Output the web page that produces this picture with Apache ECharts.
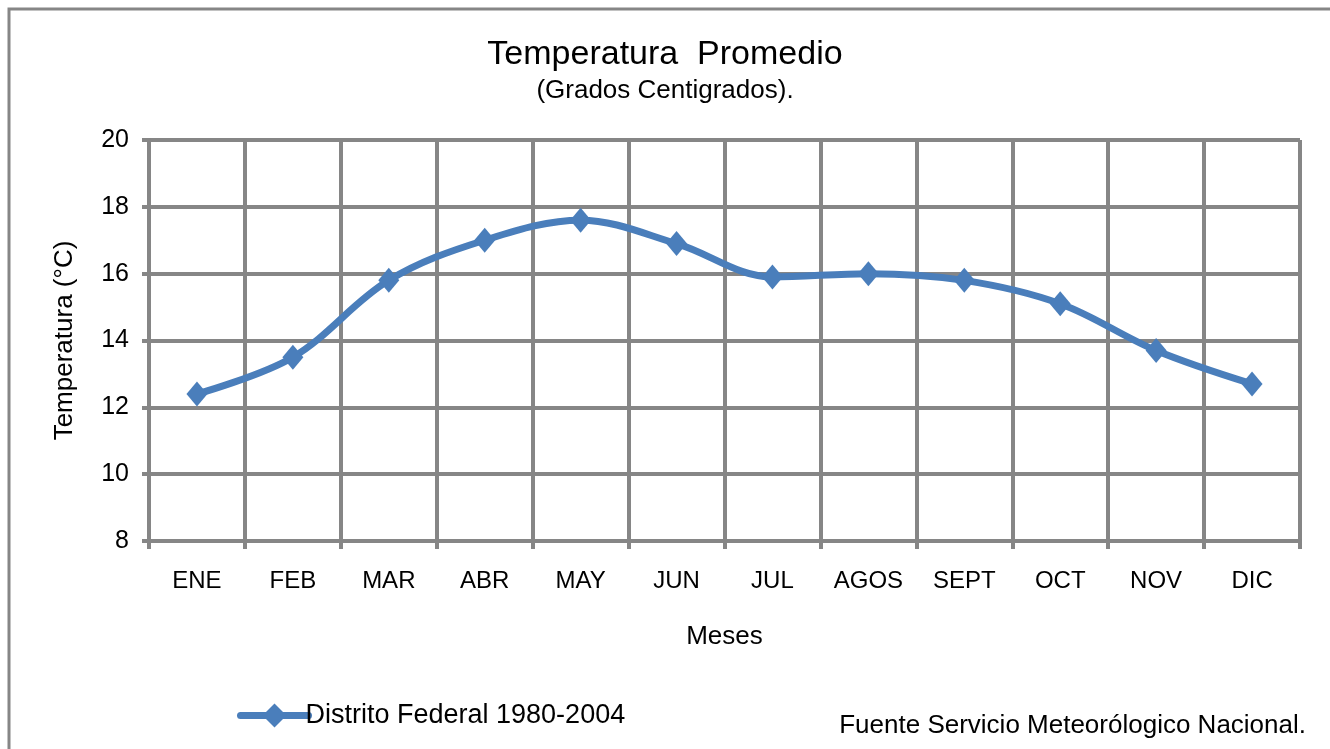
<!DOCTYPE html>
<html>
<head>
<meta charset="utf-8">
<script src="https://cdn.jsdelivr.net/npm/echarts@6/dist/echarts.min.js"></script>
<style>
  html, body { margin: 0; padding: 0; background: #fff; }
  #chart { width: 1330px; height: 749px; }
</style>
</head>
<body>
<div id="chart"></div>
<script>
const months = ['ENE', 'FEB', 'MAR', 'ABR', 'MAY', 'JUN', 'JUL', 'AGOS', 'SEPT', 'OCT', 'NOV', 'DIC']
const tempDF = [12.4, 13.5, 15.8, 17.0, 17.6, 16.9, 15.9, 16.0, 15.8, 15.1, 13.7, 12.7]
const seriesName = 'Distrito Federal 1980-2004'
const yMin = 8, yMax = 20, yStep = 2

const font = '"Liberation Sans", Arial, sans-serif'
const gridGrey = '#868686'
const blue = '#4a7ebb'

const chart = echarts.init(document.getElementById('chart'))
chart.setOption({
  backgroundColor: '#fff',
  textStyle: { fontFamily: font, color: '#000' },
  title: {
    text: 'Temperatura  Promedio',
    subtext: '(Grados Centigrados).',
    left: 'center',
    top: 33,
    itemGap: 6,
    textStyle: { fontFamily: font, fontSize: 34, fontWeight: 'normal', color: '#000' },
    subtextStyle: { fontFamily: font, fontSize: 26, color: '#000' }
  },
  grid: { left: 149, top: 140, right: 30, bottom: 208, containLabel: false },
  legend: {
    left: 232,
    top: 697,
    itemWidth: 68,
    itemHeight: 30,
    data: [seriesName],
    lineStyle: { width: 7, cap: 'round' },
    textStyle: { fontFamily: font, fontSize: 27, color: '#000', padding: [0, 0, 0, -8] }
  },
  xAxis: {
    type: 'category',
    data: months,
    boundaryGap: true,
    name: 'Meses',
    nameLocation: 'middle',
    nameGap: 83,
    nameTextStyle: { fontFamily: font, fontSize: 26, color: '#000' },
    axisLine: { lineStyle: { color: gridGrey, width: 4 } },
    axisTick: { show: true, length: 8, lineStyle: { color: gridGrey, width: 4 } },
    axisLabel: { margin: 28, fontFamily: font, fontSize: 24, color: '#000' },
    splitLine: { show: true, lineStyle: { color: gridGrey, width: 4 } }
  },
  yAxis: {
    type: 'value',
    min: yMin,
    max: yMax,
    interval: yStep,
    name: 'Temperatura (°C)',
    nameLocation: 'middle',
    nameGap: 71,
    nameTextStyle: { fontFamily: font, fontSize: 26, color: '#000' },
    axisLine: { show: true, lineStyle: { color: gridGrey, width: 4 } },
    axisTick: { show: true, length: 7, lineStyle: { color: gridGrey, width: 4 } },
    axisLabel: { margin: 20, fontFamily: font, fontSize: 25, color: '#000' },
    splitLine: { show: true, lineStyle: { color: gridGrey, width: 4 } }
  },
  series: [{
    name: seriesName,
    type: 'line',
    data: tempDF,
    smooth: 0.35,
    symbol: 'diamond',
    symbolSize: [21, 25],
    lineStyle: { color: blue, width: 7 },
    itemStyle: { color: blue },
    z: 5
  }],
  graphic: [
    {
      type: 'rect',
      shape: { x: 9, y: 9, width: 1400, height: 800 },
      style: { fill: 'none', stroke: gridGrey, lineWidth: 3 },
      silent: true
    },
    {
      type: 'text',
      right: 24,
      top: 713,
      style: { text: 'Fuente Servicio Meteorólogico Nacional.', font: '26px ' + font, fill: '#000' }
    }
  ]
})
</script>
</body>
</html>
